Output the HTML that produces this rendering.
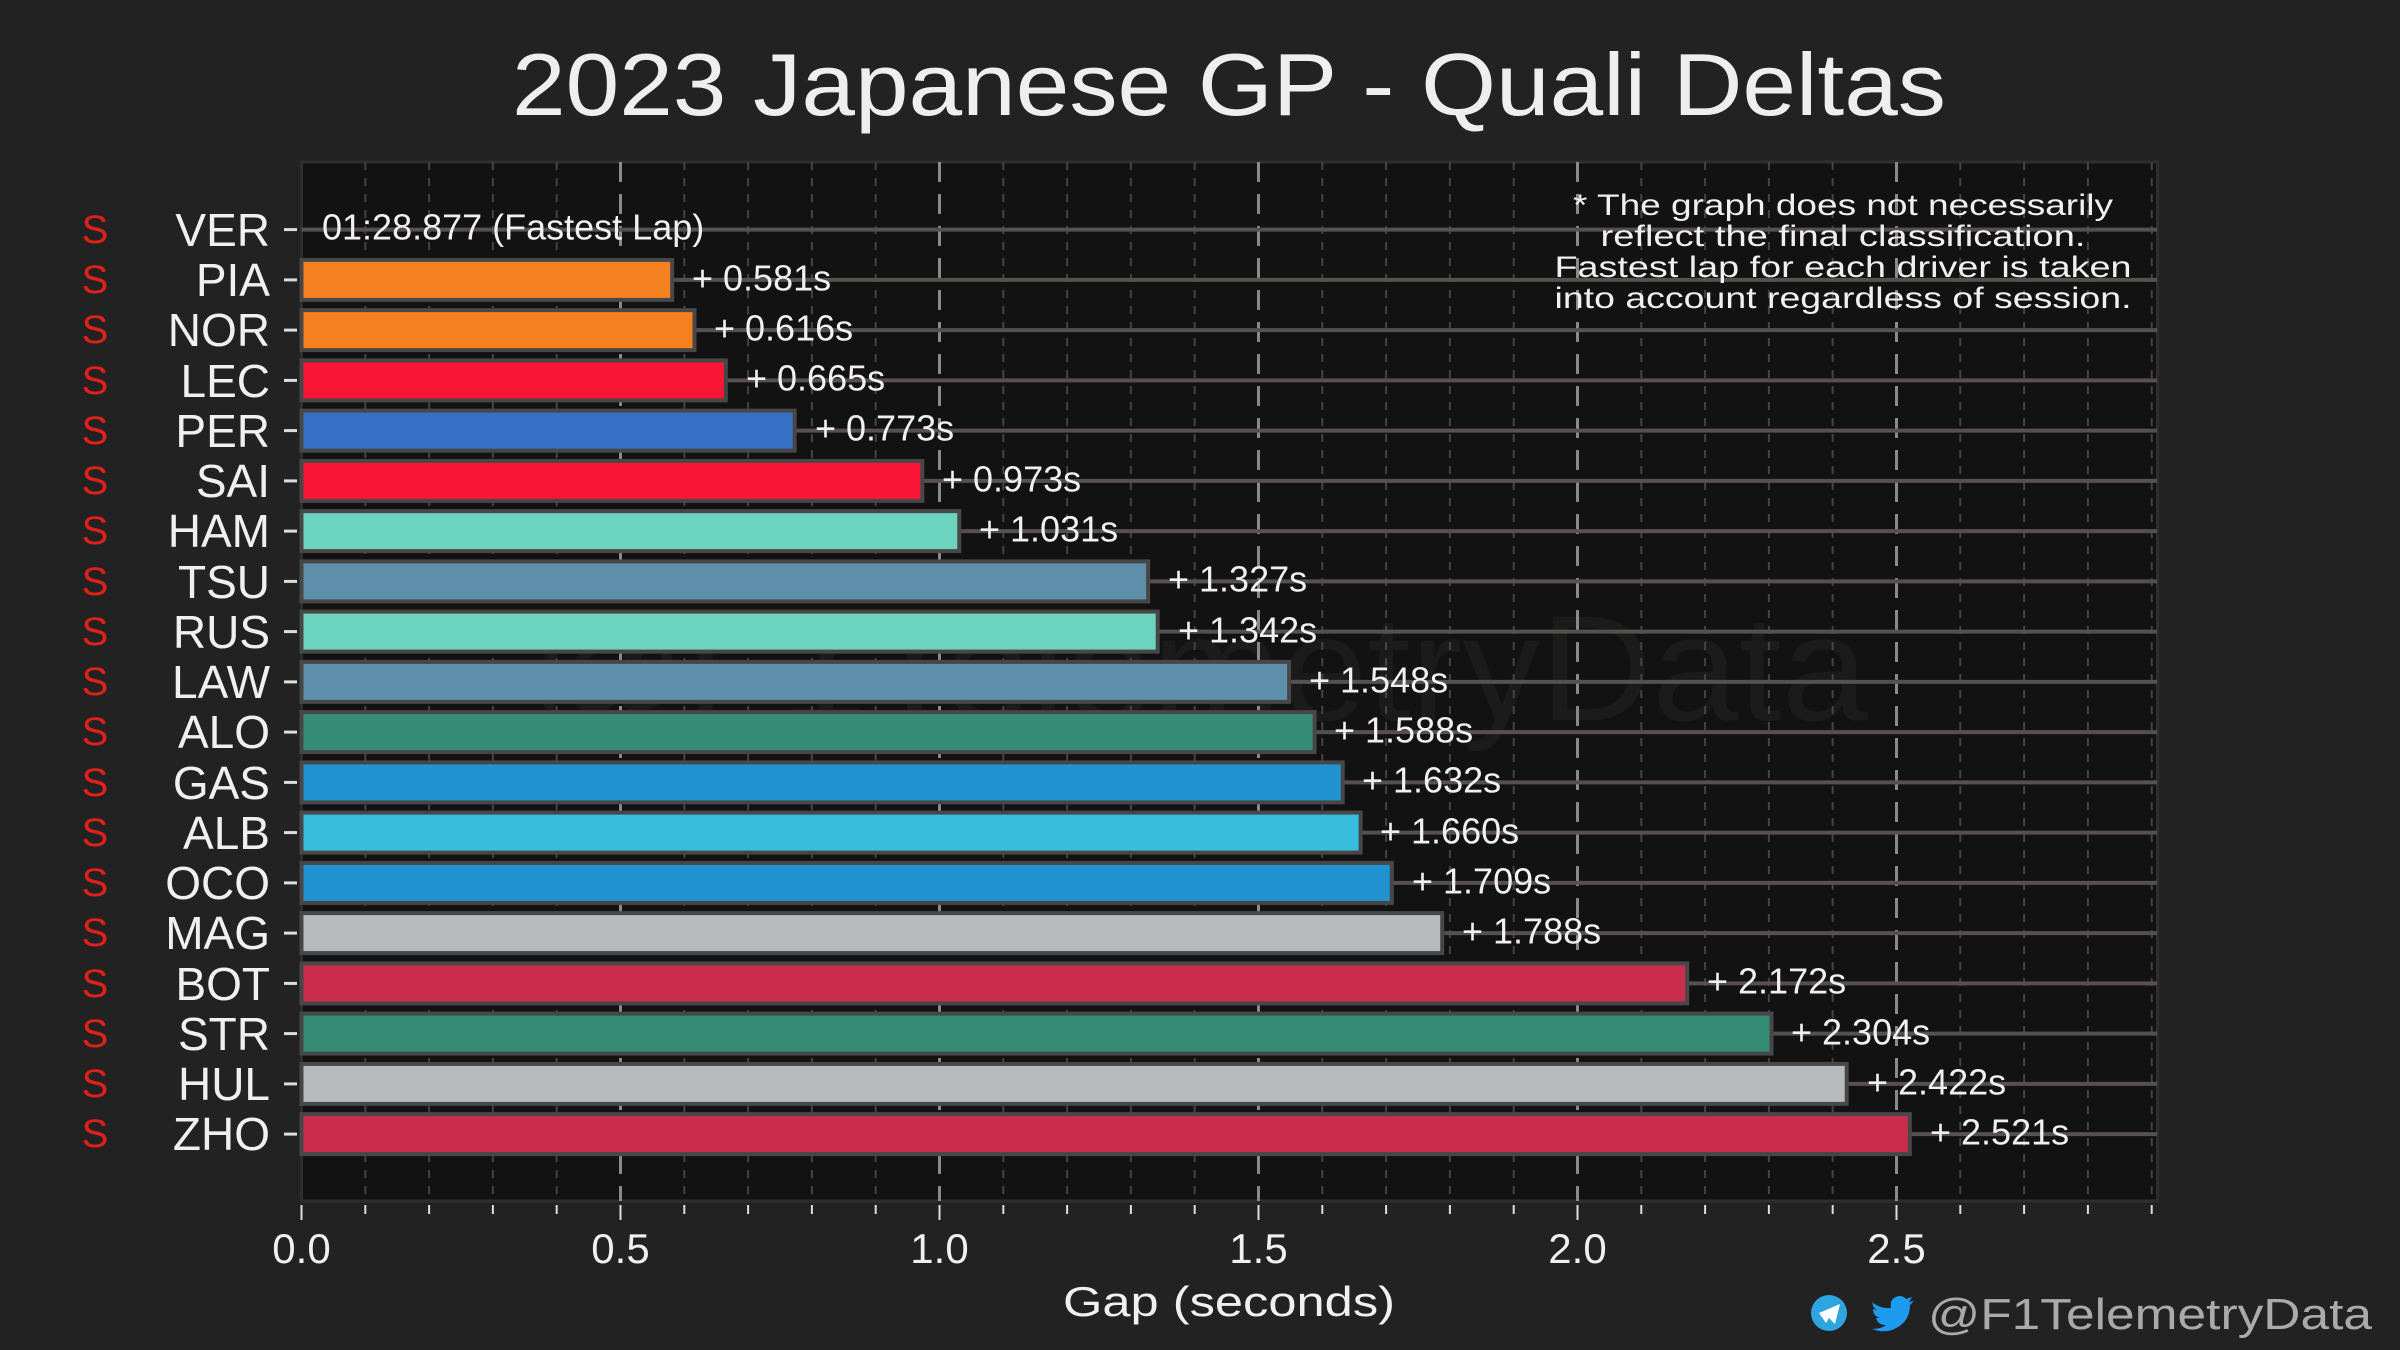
<!DOCTYPE html>
<html><head><meta charset="utf-8"><style>
html,body{margin:0;padding:0;background:#222;}
svg{display:block;font-family:"Liberation Sans",sans-serif;}
</style></head><body>
<svg width="2400" height="1350" viewBox="0 0 2400 1350" xmlns="http://www.w3.org/2000/svg">
<rect width="2400" height="1350" fill="#222"/>
<text x="1229" y="115" fill="#eee" font-size="88" text-anchor="middle" textLength="1434" lengthAdjust="spacingAndGlyphs">2023 Japanese GP - Quali Deltas</text>
<rect x="301.5" y="162" width="1856" height="1039" fill="#121212" stroke="#2e2e2e" stroke-width="3"/>
<text x="1198" y="720" fill="#1b1b1b" font-size="150" text-anchor="middle" textLength="1340" lengthAdjust="spacingAndGlyphs">@F1TelemetryData</text>
<g stroke="#444" stroke-width="2" stroke-dasharray="8,8">
<line x1="365.3" y1="162" x2="365.3" y2="1201"/><line x1="429.1" y1="162" x2="429.1" y2="1201"/><line x1="492.9" y1="162" x2="492.9" y2="1201"/><line x1="556.7" y1="162" x2="556.7" y2="1201"/>
<line x1="684.3" y1="162" x2="684.3" y2="1201"/><line x1="748.1" y1="162" x2="748.1" y2="1201"/><line x1="811.9" y1="162" x2="811.9" y2="1201"/><line x1="875.7" y1="162" x2="875.7" y2="1201"/>
<line x1="1003.3" y1="162" x2="1003.3" y2="1201"/><line x1="1067.1" y1="162" x2="1067.1" y2="1201"/><line x1="1130.9" y1="162" x2="1130.9" y2="1201"/><line x1="1194.7" y1="162" x2="1194.7" y2="1201"/>
<line x1="1322.3" y1="162" x2="1322.3" y2="1201"/><line x1="1386.1" y1="162" x2="1386.1" y2="1201"/><line x1="1449.9" y1="162" x2="1449.9" y2="1201"/><line x1="1513.7" y1="162" x2="1513.7" y2="1201"/>
<line x1="1641.3" y1="162" x2="1641.3" y2="1201"/><line x1="1705.1" y1="162" x2="1705.1" y2="1201"/><line x1="1768.9" y1="162" x2="1768.9" y2="1201"/><line x1="1832.7" y1="162" x2="1832.7" y2="1201"/>
<line x1="1960.3" y1="162" x2="1960.3" y2="1201"/><line x1="2024.1" y1="162" x2="2024.1" y2="1201"/><line x1="2087.9" y1="162" x2="2087.9" y2="1201"/><line x1="2151.7" y1="162" x2="2151.7" y2="1201"/>
</g>
<g stroke="#8a8a8a" stroke-width="3" stroke-dasharray="20,12">
<line x1="620.5" y1="162" x2="620.5" y2="1201"/><line x1="939.5" y1="162" x2="939.5" y2="1201"/><line x1="1258.5" y1="162" x2="1258.5" y2="1201"/><line x1="1577.5" y1="162" x2="1577.5" y2="1201"/><line x1="1896.5" y1="162" x2="1896.5" y2="1201"/>
</g>
<g stroke="#57504e" stroke-width="4">
<line x1="301.5" x2="2157" y1="229.6" y2="229.6"/><line x1="301.5" x2="2157" y1="279.9" y2="279.9"/><line x1="301.5" x2="2157" y1="330.1" y2="330.1"/><line x1="301.5" x2="2157" y1="380.4" y2="380.4"/><line x1="301.5" x2="2157" y1="430.6" y2="430.6"/><line x1="301.5" x2="2157" y1="480.9" y2="480.9"/><line x1="301.5" x2="2157" y1="531.1" y2="531.1"/><line x1="301.5" x2="2157" y1="581.4" y2="581.4"/><line x1="301.5" x2="2157" y1="631.6" y2="631.6"/><line x1="301.5" x2="2157" y1="681.9" y2="681.9"/><line x1="301.5" x2="2157" y1="732.1" y2="732.1"/><line x1="301.5" x2="2157" y1="782.4" y2="782.4"/><line x1="301.5" x2="2157" y1="832.6" y2="832.6"/><line x1="301.5" x2="2157" y1="882.9" y2="882.9"/><line x1="301.5" x2="2157" y1="933.1" y2="933.1"/><line x1="301.5" x2="2157" y1="983.4" y2="983.4"/><line x1="301.5" x2="2157" y1="1033.6" y2="1033.6"/><line x1="301.5" x2="2157" y1="1083.9" y2="1083.9"/><line x1="301.5" x2="2157" y1="1134.1" y2="1134.1"/>
</g>
<g stroke="#474747" stroke-width="4">
<rect x="301.5" y="259.9" width="370.7" height="40" fill="#f58020"/>
<rect x="301.5" y="310.1" width="393" height="40" fill="#f58020"/>
<rect x="301.5" y="360.4" width="424.3" height="40" fill="#f91536"/>
<rect x="301.5" y="410.6" width="493.2" height="40" fill="#3671c6"/>
<rect x="301.5" y="460.9" width="620.8" height="40" fill="#f91536"/>
<rect x="301.5" y="511.1" width="657.8" height="40" fill="#6cd3bf"/>
<rect x="301.5" y="561.4" width="846.6" height="40" fill="#5e8faa"/>
<rect x="301.5" y="611.6" width="856.2" height="40" fill="#6cd3bf"/>
<rect x="301.5" y="661.9" width="987.6" height="40" fill="#5e8faa"/>
<rect x="301.5" y="712.1" width="1013.1" height="40" fill="#358c75"/>
<rect x="301.5" y="762.4" width="1041.2" height="40" fill="#2293d1"/>
<rect x="301.5" y="812.6" width="1059.1" height="40" fill="#37bedd"/>
<rect x="301.5" y="862.9" width="1090.3" height="40" fill="#2293d1"/>
<rect x="301.5" y="913.1" width="1140.7" height="40" fill="#b6babd"/>
<rect x="301.5" y="963.4" width="1385.7" height="40" fill="#c92d4b"/>
<rect x="301.5" y="1013.6" width="1470" height="40" fill="#358c75"/>
<rect x="301.5" y="1063.9" width="1545.2" height="40" fill="#b6babd"/>
<rect x="301.5" y="1114.1" width="1608.4" height="40" fill="#c92d4b"/>
</g>
<g fill="#f0f0f0" font-size="36" dominant-baseline="central">
<text x="322" y="227">01:28.877 (Fastest Lap)</text>
<text x="692" y="278">+ 0.581s</text>
<text x="714" y="328">+ 0.616s</text>
<text x="746" y="378">+ 0.665s</text>
<text x="815" y="428">+ 0.773s</text>
<text x="942" y="479">+ 0.973s</text>
<text x="979" y="529">+ 1.031s</text>
<text x="1168" y="579">+ 1.327s</text>
<text x="1178" y="630">+ 1.342s</text>
<text x="1309" y="680">+ 1.548s</text>
<text x="1334" y="730">+ 1.588s</text>
<text x="1362" y="780">+ 1.632s</text>
<text x="1380" y="831">+ 1.660s</text>
<text x="1412" y="881">+ 1.709s</text>
<text x="1462" y="931">+ 1.788s</text>
<text x="1707" y="981">+ 2.172s</text>
<text x="1791" y="1032">+ 2.304s</text>
<text x="1867" y="1082">+ 2.422s</text>
<text x="1930" y="1132">+ 2.521s</text>
</g>
<g fill="#f0f0f0" font-size="30" text-anchor="middle" lengthAdjust="spacingAndGlyphs">
<text x="1843" y="215" textLength="540" lengthAdjust="spacingAndGlyphs">* The graph does not necessarily</text>
<text x="1843" y="246" textLength="485" lengthAdjust="spacingAndGlyphs">reflect the final classification.</text>
<text x="1843" y="277" textLength="577" lengthAdjust="spacingAndGlyphs">Fastest lap for each driver is taken</text>
<text x="1843" y="308" textLength="577" lengthAdjust="spacingAndGlyphs">into account regardless of session.</text>
</g>
<g fill="#f0f0f0" font-size="46" text-anchor="end" dominant-baseline="central">
<text x="270" y="230">VER</text><text x="270" y="280">PIA</text><text x="270" y="330">NOR</text><text x="270" y="381">LEC</text><text x="270" y="431">PER</text><text x="270" y="481">SAI</text><text x="270" y="531">HAM</text><text x="270" y="582">TSU</text><text x="270" y="632">RUS</text><text x="270" y="682">LAW</text><text x="270" y="732">ALO</text><text x="270" y="783">GAS</text><text x="270" y="833">ALB</text><text x="270" y="883">OCO</text><text x="270" y="933">MAG</text><text x="270" y="984">BOT</text><text x="270" y="1034">STR</text><text x="270" y="1084">HUL</text><text x="270" y="1134">ZHO</text>
</g>
<g fill="#e0201b" font-size="40" text-anchor="middle" dominant-baseline="central">
<text x="95" y="230">S</text><text x="95" y="280">S</text><text x="95" y="330">S</text><text x="95" y="381">S</text><text x="95" y="431">S</text><text x="95" y="481">S</text><text x="95" y="531">S</text><text x="95" y="582">S</text><text x="95" y="632">S</text><text x="95" y="682">S</text><text x="95" y="732">S</text><text x="95" y="783">S</text><text x="95" y="833">S</text><text x="95" y="883">S</text><text x="95" y="933">S</text><text x="95" y="984">S</text><text x="95" y="1034">S</text><text x="95" y="1084">S</text><text x="95" y="1134">S</text>
</g>
<g stroke="#ddd" stroke-width="3">
<line x1="284" x2="297" y1="229.6" y2="229.6"/><line x1="284" x2="297" y1="279.9" y2="279.9"/><line x1="284" x2="297" y1="330.1" y2="330.1"/><line x1="284" x2="297" y1="380.4" y2="380.4"/><line x1="284" x2="297" y1="430.6" y2="430.6"/><line x1="284" x2="297" y1="480.9" y2="480.9"/><line x1="284" x2="297" y1="531.1" y2="531.1"/><line x1="284" x2="297" y1="581.4" y2="581.4"/><line x1="284" x2="297" y1="631.6" y2="631.6"/><line x1="284" x2="297" y1="681.9" y2="681.9"/><line x1="284" x2="297" y1="732.1" y2="732.1"/><line x1="284" x2="297" y1="782.4" y2="782.4"/><line x1="284" x2="297" y1="832.6" y2="832.6"/><line x1="284" x2="297" y1="882.9" y2="882.9"/><line x1="284" x2="297" y1="933.1" y2="933.1"/><line x1="284" x2="297" y1="983.4" y2="983.4"/><line x1="284" x2="297" y1="1033.6" y2="1033.6"/><line x1="284" x2="297" y1="1083.9" y2="1083.9"/><line x1="284" x2="297" y1="1134.1" y2="1134.1"/>
</g>
<g stroke="#ddd" stroke-width="2">
<line x1="301.5" x2="301.5" y1="1205" y2="1220"/><line x1="365.3" x2="365.3" y1="1205" y2="1214"/><line x1="429.1" x2="429.1" y1="1205" y2="1214"/><line x1="492.9" x2="492.9" y1="1205" y2="1214"/><line x1="556.7" x2="556.7" y1="1205" y2="1214"/><line x1="620.5" x2="620.5" y1="1205" y2="1220"/><line x1="684.3" x2="684.3" y1="1205" y2="1214"/><line x1="748.1" x2="748.1" y1="1205" y2="1214"/><line x1="811.9" x2="811.9" y1="1205" y2="1214"/><line x1="875.7" x2="875.7" y1="1205" y2="1214"/><line x1="939.5" x2="939.5" y1="1205" y2="1220"/><line x1="1003.3" x2="1003.3" y1="1205" y2="1214"/><line x1="1067.1" x2="1067.1" y1="1205" y2="1214"/><line x1="1130.9" x2="1130.9" y1="1205" y2="1214"/><line x1="1194.7" x2="1194.7" y1="1205" y2="1214"/><line x1="1258.5" x2="1258.5" y1="1205" y2="1220"/><line x1="1322.3" x2="1322.3" y1="1205" y2="1214"/><line x1="1386.1" x2="1386.1" y1="1205" y2="1214"/><line x1="1449.9" x2="1449.9" y1="1205" y2="1214"/><line x1="1513.7" x2="1513.7" y1="1205" y2="1214"/><line x1="1577.5" x2="1577.5" y1="1205" y2="1220"/><line x1="1641.3" x2="1641.3" y1="1205" y2="1214"/><line x1="1705.1" x2="1705.1" y1="1205" y2="1214"/><line x1="1768.9" x2="1768.9" y1="1205" y2="1214"/><line x1="1832.7" x2="1832.7" y1="1205" y2="1214"/><line x1="1896.5" x2="1896.5" y1="1205" y2="1220"/><line x1="1960.3" x2="1960.3" y1="1205" y2="1214"/><line x1="2024.1" x2="2024.1" y1="1205" y2="1214"/><line x1="2087.9" x2="2087.9" y1="1205" y2="1214"/><line x1="2151.7" x2="2151.7" y1="1205" y2="1214"/>
</g>
<g fill="#f0f0f0" font-size="42" text-anchor="middle">
<text x="301.5" y="1263">0.0</text><text x="620.5" y="1263">0.5</text><text x="939.5" y="1263">1.0</text><text x="1258.5" y="1263">1.5</text><text x="1577.5" y="1263">2.0</text><text x="1896.5" y="1263">2.5</text>
</g>
<text x="1229" y="1316" fill="#f0f0f0" font-size="42" text-anchor="middle" textLength="332" lengthAdjust="spacingAndGlyphs">Gap (seconds)</text>
<circle cx="1829" cy="1313" r="18" fill="#2ca5e0"/>
<path d="M1819 1313 L1840 1304 L1835 1324 L1829 1318 L1826 1323 Z" fill="#fff"/>
<path d="M1873 1303 q8 6 18 5 q-2 -10 8 -12 q5 0 7 3 l6 -2 l-3 5 l5 -1 l-4 4 q0 18 -18 25 q-10 3 -20 -1 q9 0 14 -4 q-8 0 -10 -7 l4 0 q-7 -2 -7 -9 l4 1 q-6 -4 -4 -9z" fill="#1d9bf0"/>
<text x="1928" y="1329" fill="#aaa" font-size="44" textLength="444" lengthAdjust="spacingAndGlyphs">@F1TelemetryData</text>
</svg>
</body></html>
